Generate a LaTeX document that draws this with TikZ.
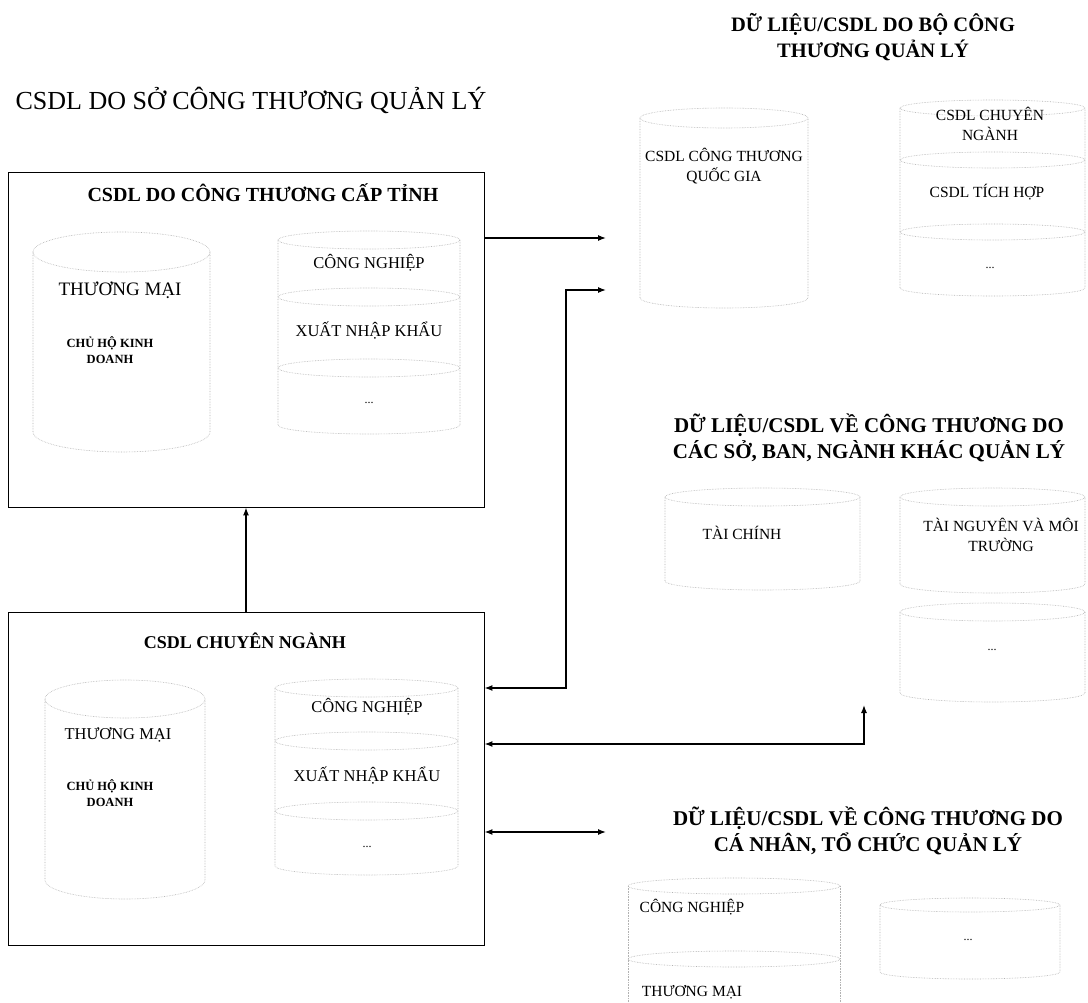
\documentclass[tikz,border=0pt]{standalone}
\usepackage{fontspec}
\setmainfont{Liberation Serif}
\usetikzlibrary{arrows.meta}

% faint database cylinder: x1, x2, y of top ellipse, y of bottom, y radius
\newcommand\dbcyl[5]{%
  \pgfmathsetmacro\cxm{(#1+#2)/2}%
  \pgfmathsetmacro\rxm{(#2-#1)/2}%
  \draw[cylline] (\cxm,#3) ellipse [x radius=\rxm pt, y radius=#5 pt];
  \draw[cylline] (#1,#3) -- (#1,#4)
     arc[start angle=180, end angle=360, x radius=\rxm pt, y radius=#5 pt] -- (#2,#3);
}
% ring between two stacked disks: x1, x2, y, y radius
\newcommand\dbring[4]{%
  \pgfmathsetmacro\cxm{(#1+#2)/2}%
  \pgfmathsetmacro\rxm{(#2-#1)/2}%
  \draw[cylline] (\cxm,#3) ellipse [x radius=\rxm pt, y radius=#4 pt];
}

\tikzset{
  cylline/.style={draw=black!30, densely dotted, line width=0.6pt},
  frame/.style={draw=black, line width=0.9pt, inner sep=0pt},
  link/.style={draw=black, line width=1.3pt},
  tip/.style={-{Latex[length=8pt,width=6pt]}},
  twotip/.style={{Latex[length=8pt,width=6pt]}-{Latex[length=8pt,width=6pt]}},
  pagetitle/.style={font=\fontsize{26}{30}\selectfont, inner sep=0pt},
  boxtitle/.style={font=\bfseries\fontsize{20}{24}\selectfont, inner sep=0pt},
  grouptitle/.style={font=\bfseries\fontsize{21}{26}\selectfont, align=center, inner sep=0pt},
  biglbl/.style={font=\fontsize{19}{22}\selectfont, inner sep=0pt, align=center},
  lbl/.style={font=\fontsize{16.5}{20}\selectfont, inner sep=0pt, align=center},
  rlbl/.style={font=\fontsize{15.5}{20}\selectfont, inner sep=0pt, align=center},
  smallbold/.style={font=\bfseries\fontsize{12.5}{16}\selectfont, inner sep=0pt, align=center},
  dots/.style={font=\fontsize{12}{14}\selectfont, inner sep=0pt},
}

\begin{document}
\begin{tikzpicture}[x=1pt, y=-1pt]
\useasboundingbox[fill=white] (0,0) rectangle (1088,1003);

% ---------- left side: provincial databases ----------
\node[pagetitle] (pagetitle) at (251,100) {CSDL DO SỞ CÔNG THƯƠNG QUẢN LÝ};

\node[frame, minimum width=476pt, minimum height=335pt] (box1) at (246,339.5) {};
\node[boxtitle] (box1title) at (263,193) {CSDL DO CÔNG THƯƠNG CẤP TỈNH};

\dbcyl{33}{210}{252}{432}{20}
\node[biglbl] (tm1) at (120,290) {THƯƠNG MẠI};
\node[smallbold] (hkd1) at (110,350) {CHỦ HỘ KINH\\DOANH};

\dbcyl{278}{460}{240}{425}{9}
\dbring{278}{460}{297}{9}
\dbring{278}{460}{368}{9}
\node[lbl] (cn1) at (369,263) {CÔNG NGHIỆP};
\node[lbl] (xnk1) at (369,331) {XUẤT NHẬP KHẨU};
\node[dots] (etc1) at (369,403) {...};

\node[frame, minimum width=476pt, minimum height=333pt] (box2) at (246,778.5) {};
\node[boxtitle, font=\bfseries\fontsize{18}{22}\selectfont] (box2title) at (245,641) {CSDL CHUYÊN NGÀNH};

\dbcyl{45}{205}{699}{880}{19}
\node[lbl] (tm2) at (118,735) {THƯƠNG MẠI};
\node[smallbold] (hkd2) at (110,793) {CHỦ HỘ KINH\\DOANH};

\dbcyl{275}{458}{688}{866}{9}
\dbring{275}{458}{741}{9}
\dbring{275}{458}{811}{9}
\node[lbl] (cn2) at (367,707) {CÔNG NGHIỆP};
\node[lbl] (xnk2) at (367,776) {XUẤT NHẬP KHẨU};
\node[dots] (etc2) at (367,847) {...};

% ---------- right side: ministry ----------
\node[grouptitle, font=\bfseries\fontsize{20.5}{26}\selectfont] (g1) at (873,37) {DỮ LIỆU/CSDL DO BỘ CÔNG\\THƯƠNG QUẢN LÝ};

\dbcyl{640}{808}{118}{298}{10}
\node[rlbl] (qg) at (724,166) {CSDL CÔNG THƯƠNG\\QUỐC GIA};

\dbcyl{900}{1085}{108}{288}{8}
\dbring{900}{1085}{160}{8}
\dbring{900}{1085}{232}{8}
\node[rlbl] (cncn) at (990,124) {CSDL CHUYÊN\\NGÀNH};
\node[rlbl] (th) at (987,192) {CSDL TÍCH HỢP};
\node[dots] (etc3) at (990,268) {...};

% ---------- right side: other departments ----------
\node[grouptitle] (g2) at (869,438) {DỮ LIỆU/CSDL VỀ CÔNG THƯƠNG DO\\CÁC SỞ, BAN, NGÀNH KHÁC QUẢN LÝ};

\dbcyl{665}{860}{497}{581}{9}
\node[rlbl] (tc) at (742,533) {TÀI CHÍNH};

\dbcyl{900}{1085}{497}{584}{9}
\node[rlbl] (tnmt) at (1001,535) {TÀI NGUYÊN VÀ MÔI\\TRƯỜNG};

\dbcyl{900}{1085}{612}{693}{9}
\node[dots] (etc4) at (992,650) {...};

% ---------- right side: individuals and organisations ----------
\node[grouptitle] (g3) at (868,831) {DỮ LIỆU/CSDL VỀ CÔNG THƯƠNG DO\\CÁ NHÂN, TỔ CHỨC QUẢN LÝ};

\dbring{628}{840}{886}{8}
\draw[cylline] (628,886) -- (628,1003);
\draw[cylline] (840,886) -- (840,1003);
\dbring{628}{840}{959}{8}
\node[rlbl] (cn3) at (692,907) {CÔNG NGHIỆP};
\node[rlbl] (tm3) at (692,992) {THƯƠNG MẠI};

\dbcyl{880}{1060}{905}{972}{7}
\node[dots] (etc5) at (968,940) {...};

% ---------- connectors ----------
\coordinate (qgIn1) at (606,238);
\coordinate (qgIn2) at (606,290);
\coordinate (k2) at (566,688);
\coordinate (k3) at (864,744);
\coordinate (soIn) at (864,705);
\coordinate (cnIn) at (606,832);

\draw[link, tip] (box1.east |- qgIn1) -- (qgIn1);
\draw[link, twotip] (box2.east |- k2) -- (k2) |- (qgIn2);
\draw[link, twotip] (box2.east |- k3) -- (k3) -- (soIn);
\draw[link, twotip] (box2.east |- cnIn) -- (cnIn);
\draw[link, tip] (box2.north) -- (box1.south);
\end{tikzpicture}
\end{document}
